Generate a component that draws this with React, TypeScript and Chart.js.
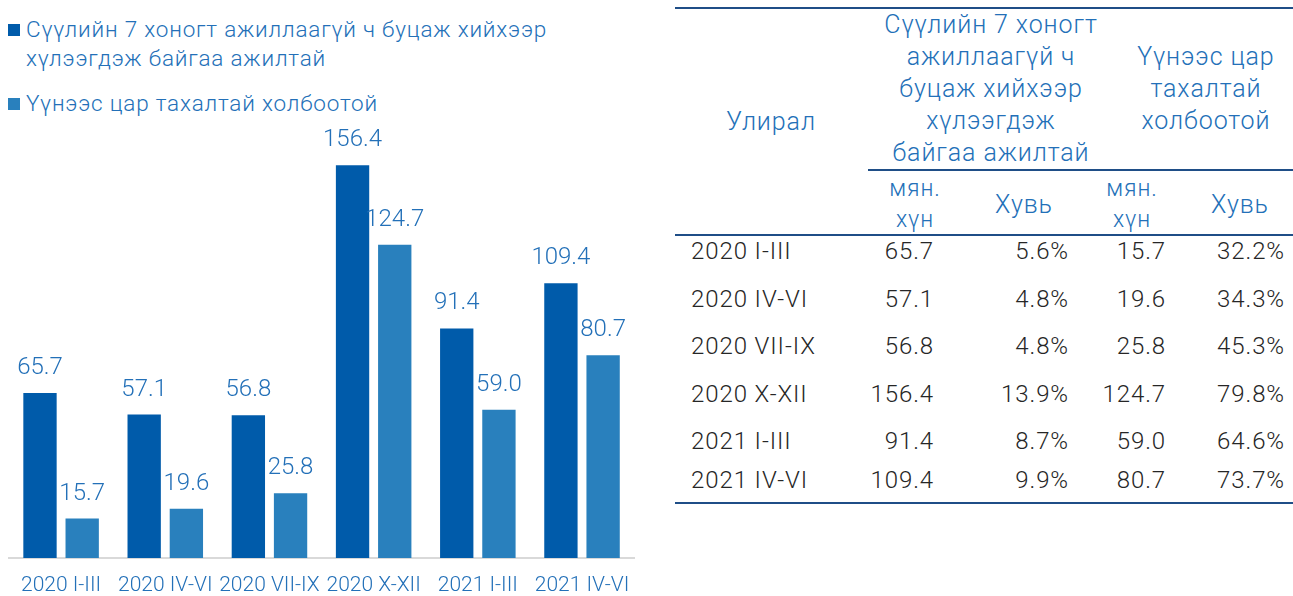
import React, { useEffect, useRef } from 'react';
import { Chart, registerables } from 'chart.js';

Chart.register(...registerables);

// ---------- data ----------
const categories = ['2020 I-III', '2020 IV-VI', '2020 VII-IX', '2020 X-XII', '2021 I-III', '2021 IV-VI'];
const waitingValues = [65.7, 57.1, 56.8, 156.4, 91.4, 109.4];
const pandemicValues = [15.7, 19.6, 25.8, 124.7, 59.0, 80.7];
const waitingShares = ['5.6%', '4.8%', '4.8%', '13.9%', '8.7%', '9.9%'];
const pandemicShares = ['32.2%', '34.3%', '45.3%', '79.8%', '64.6%', '73.7%'];
const seriesNames = ['Сүүлийн 7 хоногт ажиллаагүй ч буцаж хийхээр хүлээгдэж байгаа ажилтай', 'Үүнээс цар тахалтай холбоотой'];
const periodHeader = 'Улирал';
const group1Lines = ['Сүүлийн 7 хоногт', 'ажиллаагүй ч', 'буцаж хийхээр', 'хүлээгдэж', 'байгаа ажилтай'];
const group2Lines = ['Үүнээс цар', 'тахалтай', 'холбоотой'];
const unitLines = ['мян.', 'хүн'];
const shareHeader = 'Хувь';

// ---------- styles ----------
const FONT = 'Roboto, "Noto Sans", sans-serif';
const DARK = '#005BAA';
const LIGHT = '#2980BD';
const TEXT_BLUE = '#2370B8';
const NAVY = '#1F4E87';
const BODY_TEXT = '#262626';

const valueLabelPlugin = {
  id: 'valueLabels',
  afterDatasetsDraw(chart: any) {
    const ctx = chart.ctx;
    ctx.save();
    ctx.font = `300 24px ${FONT}`;
    ctx.fillStyle = TEXT_BLUE;
    ctx.textAlign = 'center';
    ctx.textBaseline = 'middle';
    chart.data.datasets.forEach((ds: any, i: number) => {
      const meta = chart.getDatasetMeta(i);
      meta.data.forEach((bar: any, j: number) => {
        ctx.fillText(Number(ds.data[j]).toFixed(1), bar.x, bar.y - 25);
      });
    });
    ctx.restore();
  },
};

function BarChart() {
  const ref = useRef<HTMLCanvasElement | null>(null);
  useEffect(() => {
    if (!ref.current) return;
    const chart = new Chart(ref.current, {
      type: 'bar',
      data: {
        labels: categories,
        datasets: [
          { label: seriesNames[0], data: waitingValues, backgroundColor: DARK, barPercentage: 0.79, categoryPercentage: 0.81 },
          { label: seriesNames[1], data: pandemicValues, backgroundColor: LIGHT, barPercentage: 0.79, categoryPercentage: 0.81 },
        ],
      },
      options: {
        animation: false,
        responsive: false,
        maintainAspectRatio: false,
        layout: { padding: { left: 9, right: 9, top: 31, bottom: 0 } },
        plugins: { legend: { display: false }, tooltip: { enabled: false } },
        scales: {
          x: {
            grid: { display: false, drawTicks: false },
            border: { display: true, color: '#D9D9D9', width: 2 },
            ticks: { color: TEXT_BLUE, font: { family: FONT, size: 21, weight: '300' }, padding: 15, maxRotation: 0, autoSkip: false },
            afterFit: (s: any) => { s.height = 38; },
          },
          y: { display: false, min: 0, max: 170 },
        },
      },
      plugins: [valueLabelPlugin],
    } as any);
    return () => chart.destroy();
  }, []);
  return (
    <canvas ref={ref} width={645} height={496}
      style={{ position: 'absolute', left: 0, top: 100, width: 645, height: 496 }} />
  );
}

function Legend() {
  const colors = [DARK, LIGHT];
  const tops = [15, 89];
  return (
    <>
      {seriesNames.map((name, i) => (
        <div key={i} style={{ position: 'absolute', left: 8, top: tops[i], width: 600, display: 'flex', alignItems: 'flex-start' }}>
          <div style={{ width: 12, height: 12, background: colors[i], marginTop: 9, flex: '0 0 12px' }} />
          <div style={{ marginLeft: 6, width: 560, fontSize: 22.5, letterSpacing: '0.8px', lineHeight: '29px', color: TEXT_BLUE, fontWeight: 300 }}>{name}</div>
        </div>
      ))}
    </>
  );
}

function DataTable() {
  const rowCenters = [251, 299, 346, 394, 441, 480];
  const rightEdges = [933, 1068, 1165, 1284];
  const X0 = 675;
  const line = (top: number, left: number, width: number) => (
    <div style={{ position: 'absolute', top, left: left - X0, width, height: 2, background: NAVY }} />
  );
  const centered = (lines: string[], cx: number, cy: number, lh: number, size: number) => (
    <div style={{
      position: 'absolute', left: cx - X0 - 150, width: 300, top: cy - (lines.length * lh) / 2,
      textAlign: 'center', fontSize: size, letterSpacing: '0.9px', lineHeight: lh + 'px', color: TEXT_BLUE, whiteSpace: 'nowrap',
    }}>
      {lines.map((l, i) => <div key={i}>{l}</div>)}
    </div>
  );
  const bodyText = { fontSize: 24, letterSpacing: '0.9px', color: BODY_TEXT, height: 30, lineHeight: '30px', whiteSpace: 'nowrap' as const };
  return (
    <div style={{ position: 'absolute', left: X0, top: 0, width: 1293 - X0, height: 596, overflow: 'hidden', fontFamily: FONT, fontWeight: 300 }}>
      {line(7, X0, 700)}
      {line(169, 868, 500)}
      {line(234, X0, 700)}
      {line(502, X0, 700)}
      {centered([periodHeader], 771, 122, 32, 25)}
      {centered(group1Lines, 991, 89, 32, 25)}
      {centered(group2Lines, 1206, 89, 32, 25)}
      {centered(unitLines, 915, 204, 31, 23)}
      {centered([shareHeader], 1024, 204, 31, 25)}
      {centered(unitLines, 1132, 204, 31, 23)}
      {centered([shareHeader], 1240, 204, 31, 25)}
      {categories.map((cat, r) => {
        const vals = [waitingValues[r].toFixed(1), waitingShares[r], pandemicValues[r].toFixed(1), pandemicShares[r]];
        const top = rowCenters[r] - 15;
        return (
          <React.Fragment key={r}>
            <div style={{ position: 'absolute', left: 691 - X0, top, ...bodyText }}>{cat}</div>
            {vals.map((v, c) => (
              <div key={c} style={{ position: 'absolute', left: rightEdges[c] - X0 - 150 + 1, width: 150, top, textAlign: 'right', ...bodyText }}>{v}</div>
            ))}
          </React.Fragment>
        );
      })}
    </div>
  );
}

export default function App() {
  return (
    <div style={{ position: 'fixed', left: 0, top: 0, width: 1293, height: 596, background: '#fff', fontFamily: FONT, overflow: 'hidden' }}>
      <Legend />
      <BarChart />
      <DataTable />
    </div>
  );
}
